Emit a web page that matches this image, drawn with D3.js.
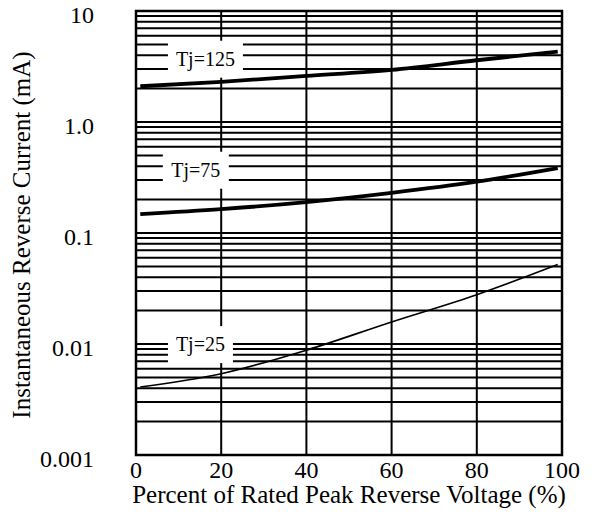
<!DOCTYPE html>
<html>
<head>
<meta charset="utf-8">
<script src="https://cdn.jsdelivr.net/npm/d3@7"></script>
<style>
  body { margin: 0; background: #fff; }
</style>
</head>
<body>
<svg id="chart" width="596" height="519"></svg>
<script>
const voltage = [1, 20, 40, 60, 80, 99]
const tj125 = [2.1, 2.3, 2.6, 2.95, 3.6, 4.3]
const tj75 = [0.148, 0.164, 0.19, 0.23, 0.29, 0.385]
const tj25 = [0.0041, 0.0054, 0.0088, 0.0158, 0.0278, 0.052]
const yTicks = [10, 1, 0.1, 0.01, 0.001]
const yTickLabels = ['10', '1.0', '0.1', '0.01', '0.001']
const xTicks = [0, 20, 40, 60, 80, 100]
const curveNames = ['Tj=125', 'Tj=75', 'Tj=25']

const FONT = "'Liberation Serif', 'Times New Roman', Times, serif"

const svg = d3.select('#chart')
const mLeft = 136, mRight = 562, mTop = 11, mBottom = 455

const x = d3.scaleLinear().domain([0, 100]).range([mLeft, mRight])
const y = d3.scaleLog().domain([0.001, 10]).range([mBottom, mTop])

// where each label box sits (top-left corner, in data units)
const labelPos = [
  { x: 7.5, y: 5.4, w: 75 },
  { x: 6.3, y: 0.54, w: 66 },
  { x: 7.5, y: 0.0145, w: 65 },
]

const grid = svg.append('g')

// horizontal lines 1..9 per decade
const hLines = []
for (let e = -3; e < 1; e++) {
  for (let m = 1; m <= 9; m++) hLines.push(m * Math.pow(10, e))
}
hLines.push(10)

grid.selectAll('line.h')
  .data(hLines)
  .enter()
  .append('line')
  .attr('x1', mLeft).attr('x2', mRight)
  .attr('y1', d => y(d)).attr('y2', d => y(d))
  .attr('stroke', '#000')
  .attr('stroke-width', 2)

grid.selectAll('line.v')
  .data(xTicks)
  .enter()
  .append('line')
  .attr('x1', d => x(d)).attr('x2', d => x(d))
  .attr('y1', mTop).attr('y2', mBottom)
  .attr('stroke', '#000')
  .attr('stroke-width', 2)

// frame
svg.append('rect')
  .attr('x', mLeft).attr('y', mTop)
  .attr('width', mRight - mLeft).attr('height', mBottom - mTop)
  .attr('fill', 'none')
  .attr('stroke', '#000')
  .attr('stroke-width', 2.5)

// white boxes behind the labels
const labels = svg.append('g')
labels.selectAll('rect')
  .data(labelPos)
  .enter()
  .append('rect')
  .attr('x', d => x(d.x))
  .attr('y', d => y(d.y))
  .attr('width', d => d.w)
  .attr('height', 37)
  .attr('fill', '#fff')

labels.selectAll('text')
  .data(labelPos)
  .enter()
  .append('text')
  .attr('x', d => x(d.x) + d.w / 2)
  .attr('y', d => y(d.y) + 25)
  .attr('text-anchor', 'middle')
  .attr('font-family', FONT)
  .attr('font-size', 20)
  .text((d, i) => curveNames[i])

// curves
const line = d3.line()
  .x((d, i) => x(voltage[i]))
  .y(d => y(d))
  .curve(d3.curveMonotoneX)

const series = [
  { values: tj125, w: 3.8 },
  { values: tj75, w: 3.8 },
  { values: tj25, w: 1.6 },
]
svg.selectAll('path.curve')
  .data(series)
  .enter()
  .append('path')
  .attr('d', d => line(d.values))
  .attr('fill', 'none')
  .attr('stroke', '#000')
  .attr('stroke-width', d => d.w)

// tick labels
svg.selectAll('text.ytick')
  .data(yTicks)
  .enter()
  .append('text')
  .attr('x', 94)
  .attr('y', d => y(d) + 12)
  .attr('text-anchor', 'end')
  .attr('font-family', FONT)
  .attr('font-size', 24)
  .text((d, i) => yTickLabels[i])

svg.selectAll('text.xtick')
  .data(xTicks)
  .enter()
  .append('text')
  .attr('x', d => x(d))
  .attr('y', 478)
  .attr('text-anchor', 'middle')
  .attr('font-family', FONT)
  .attr('font-size', 24)
  .text(d => d)

// axis titles
svg.append('text')
  .attr('x', 349)
  .attr('y', 503)
  .attr('text-anchor', 'middle')
  .attr('font-family', FONT)
  .attr('font-size', 25)
  .text('Percent of Rated Peak Reverse Voltage (%)')

svg.append('text')
  .attr('transform', 'translate(30, 235) rotate(-90)')
  .attr('text-anchor', 'middle')
  .attr('font-family', FONT)
  .attr('font-size', 25)
  .text('Instantaneous Reverse Current (mA)')
</script>
</body>
</html>
